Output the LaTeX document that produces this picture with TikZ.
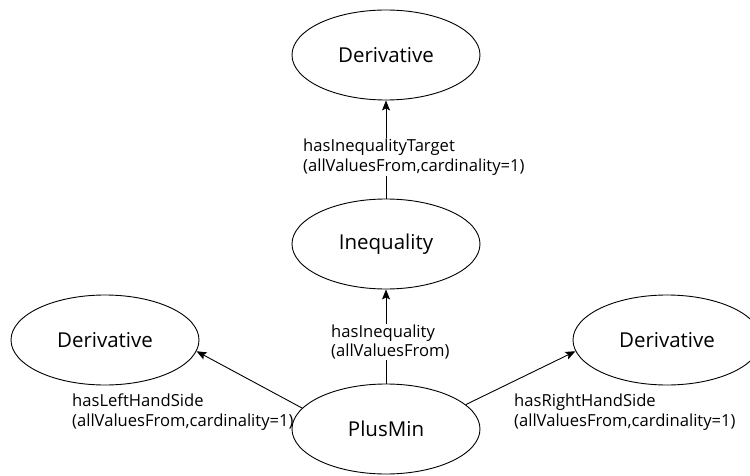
\documentclass[tikz,border=0pt]{standalone}
\usepackage{fontspec}
\setmainfont{Open Sans}
\usetikzlibrary{shapes.geometric,arrows.meta}
\begin{document}
\begin{tikzpicture}[x=1pt,y=-1pt,
  concept/.style={draw,ellipse,line width=0.9pt,minimum width=188pt,minimum height=90pt,inner sep=0pt,font=\fontsize{20.5}{24}\selectfont},
  rel/.style={font=\fontsize{16.6}{19.5}\selectfont,align=left,inner sep=1pt},
  arr/.style={-{Stealth[length=10pt,width=8pt,inset=2pt]},line width=0.9pt}]
\useasboundingbox (0,0) rectangle (750,476);
\node[concept] (top) at (386,55) {Derivative};
\node[concept] (ineq) at (386,244) {Inequality};
\node[concept] (ld) at (105,340) {Derivative};
\node[concept] (rd) at (667,340) {Derivative};
\node[concept] (pm) at (386,429) {PlusMin};
\draw[arr] (ineq) -- (top);
\draw[arr] (pm) -- (ineq);
\draw[arr] (pm.166) -- (ld.-7);
\draw[arr] (pm.17) -- (rd.187);
\node[rel,fill=white,anchor=west] (l1) at (302,157) {hasInequalityTarget\\(allValuesFrom,cardinality=1)};
\node[rel,fill=white,anchor=west] (l2) at (330,342) {hasInequality\\(allValuesFrom)};
\node[rel,anchor=west] (l3) at (71,412) {hasLeftHandSide\\(allValuesFrom,cardinality=1)};
\node[rel,anchor=west] (l4) at (513,412) {hasRightHandSide\\(allValuesFrom,cardinality=1)};
\end{tikzpicture}
\end{document}
